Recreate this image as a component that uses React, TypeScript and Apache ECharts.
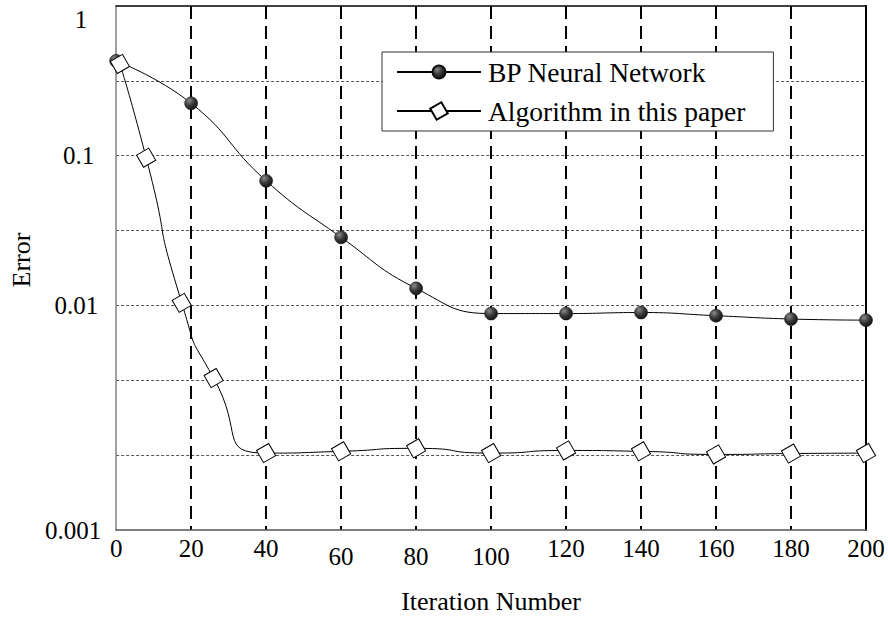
import React, { useEffect, useRef } from "react";
import * as echarts from "echarts";

// ---- data ----
const bpIter = [0, 20, 40, 60, 80, 100, 120, 140, 160, 180, 200];
const bpError = [0.43, 0.224, 0.068, 0.0285, 0.013, 0.0092, 0.0092, 0.0093, 0.009, 0.0087, 0.0086];

const algIter = [1, 8, 17.5, 26, 40, 60, 80, 100, 120, 140, 160, 180, 200];
const algError = [0.41, 0.097, 0.0104, 0.00475, 0.0022, 0.00224, 0.00231, 0.0022, 0.00226, 0.00224, 0.00217, 0.00219, 0.0022];

const yTickValues = [0.001, 0.01, 0.1, 1];
const yTickLabels = ["0.001", "0.01", "0.1", "1"];
const xTickLabels = ["0", "20", "40", "60", "80", "100", "120", "140", "160", "180", "200"];

const seriesNames = ["BP Neural Network", "Algorithm in this paper"];

// The original chart's error axis is drawn on a stretched log grid:
// 0.001 -> 0.01 spans three grid rows, every further decade spans two.
const toAxis = (v: number) => {
  const l = Math.log10(v);
  return l >= -2 ? 3 + 2 * (l + 2) : 3 * (l + 3);
};

const FONT = "Liberation Serif";

export default function App() {
  const ref = useRef<HTMLDivElement>(null);
  useEffect(() => {
    if (!ref.current) return;
    const chart = echarts.init(ref.current, undefined, { renderer: "svg" });

    const base = { fontFamily: FONT, fontSize: 25, color: "#000" };
    const yLabelRich: Record<string, any> = {
      y0: { ...base, padding: [0, 0, 0, 0] },
      y1: { ...base, padding: [0, 3, 0, 0] },
      y2: { ...base, padding: [0, 7, 0, 0] },
      y3: { ...base, padding: [26, 14, 0, 0] },
    };

    const xLabelRich: Record<string, any> = {
      a: { ...base, padding: [0, 0, 0, 0] },
      b: { ...base, padding: [8, 0, 0, 0] },
      c: { ...base, padding: [0, 0, 4, 0] },
    };

    const dotColor = new echarts.graphic.RadialGradient(0.35, 0.3, 0.75, [
      { offset: 0, color: "#8a8a8a" },
      { offset: 0.5, color: "#3a3a3a" },
      { offset: 1, color: "#111" },
    ]);

    chart.setOption({
      animation: false,
      backgroundColor: "#fff",
      textStyle: { fontFamily: FONT },
      grid: { left: 112, top: 6, right: 22, bottom: 85, containLabel: false },
      legend: {
        data: seriesNames,
        orient: "vertical",
        left: 382,
        top: 52,
        backgroundColor: "#fff",
        borderColor: "#333",
        borderWidth: 1,
        borderRadius: 0,
        padding: [6, 28, 6, 14],
        itemGap: 11,
        itemWidth: 84,
        itemHeight: 16,
        textStyle: { fontFamily: FONT, fontSize: 27.5, color: "#000", padding: [0, 0, 0, 2] },
      },
      xAxis: [
        {
          type: "value",
          min: 0,
          max: 200,
          interval: 20,
          name: "Iteration Number",
          nameLocation: "middle",
          nameGap: 58,
          nameTextStyle: { fontFamily: FONT, fontSize: 26, color: "#000" },
          axisLine: { show: true, onZero: false, lineStyle: { color: "#555", width: 1.5 } },
          axisTick: { show: false },
          axisLabel: {
            margin: 6,
            fontFamily: FONT,
            fontSize: 25,
            color: "#000",
            formatter: (v: number) => {
              const i = Math.round(v / 20);
              const t = xTickLabels[i] ?? String(v);
              const cls = i >= 3 && i <= 5 ? "b" : i >= 6 ? "c" : "a";
              return `{${cls}|${t}}`;
            },
            rich: xLabelRich,
          },
          splitLine: {
            show: true,
            showMinLine: false,
            showMaxLine: false,
            lineStyle: { color: "#000", width: 2, type: [13, 7] },
          },
        },
        {
          type: "value",
          position: "top",
          min: 0,
          max: 200,
          axisLine: { show: true, onZero: false, lineStyle: { color: "#000", width: 1.5 } },
          axisTick: { show: false },
          axisLabel: { show: false },
          splitLine: { show: false },
        },
      ],
      yAxis: [
        {
          type: "value",
          min: 0,
          max: 7,
          interval: 1,
          name: "Error",
          nameLocation: "middle",
          nameRotate: 90,
          nameGap: 80,
          nameTextStyle: { fontFamily: FONT, fontSize: 26, color: "#000", padding: [0, 0, 0, 16] },
          axisLine: { show: true, onZero: false, lineStyle: { color: "#808080", width: 1.5 } },
          axisTick: { show: false },
          axisLabel: {
            margin: 15,
            fontFamily: FONT,
            fontSize: 25,
            color: "#000",
            formatter: (v: number) => {
              for (let i = 0; i < yTickValues.length; i++) {
                if (Math.abs(toAxis(yTickValues[i]) - v) < 1e-6) {
                  return `{y${i}|${yTickLabels[i]}}`;
                }
              }
              return "";
            },
            rich: yLabelRich,
          },
          splitLine: {
            show: true,
            showMinLine: false,
            showMaxLine: false,
            lineStyle: { color: "#555", width: 1, type: [3, 2] },
          },
        },
        {
          type: "value",
          position: "right",
          min: 0,
          max: 7,
          axisLine: { show: true, onZero: false, lineStyle: { color: "#000", width: 2 } },
          axisTick: { show: false },
          axisLabel: { show: false },
          splitLine: { show: false },
        },
      ],
      series: [
        {
          name: seriesNames[0],
          type: "line",
          smooth: 0.5,
          symbol: "circle",
          symbolSize: 13,
          data: bpIter.map((x, i) => [x, toAxis(bpError[i])]),
          lineStyle: { color: "#000", width: 1 },
          itemStyle: { color: dotColor, borderColor: "#111", borderWidth: 0.5 },
          z: 3,
        },
        {
          name: seriesNames[1],
          type: "line",
          smooth: 0.7,
          symbol: "rect",
          symbolSize: 14,
          symbolRotate: 30,
          data: algIter.map((x, i) => [x, toAxis(algError[i])]),
          lineStyle: { color: "#000", width: 1 },
          itemStyle: { color: "#fff", borderColor: "#000", borderWidth: 1 },
          z: 3,
        },
      ],
    });
    return () => chart.dispose();
  }, []);

  return (
    <div
      ref={ref}
      style={{ position: "fixed", left: 0, top: 0, width: 888, height: 619, background: "#fff" }}
    />
  );
}
